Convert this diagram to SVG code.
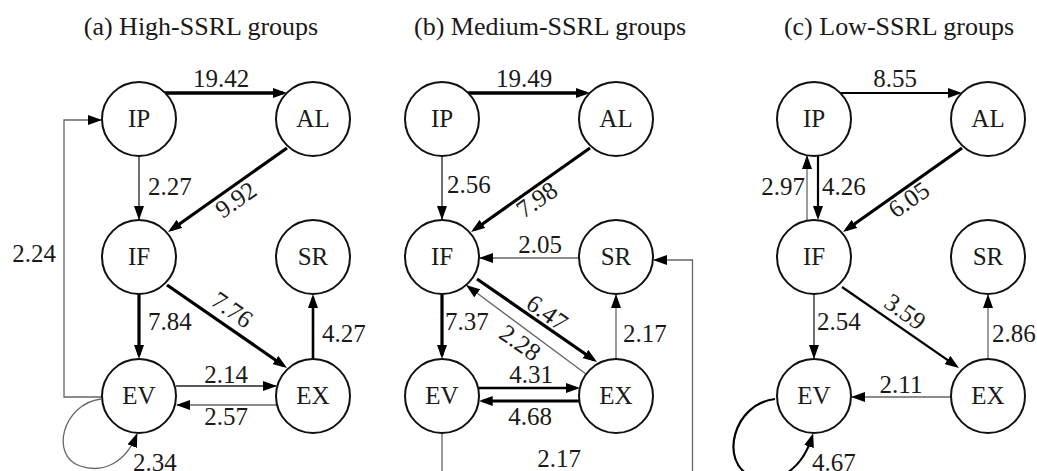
<svg xmlns="http://www.w3.org/2000/svg" width="1037" height="471" viewBox="0 0 1037 471" font-family="'Liberation Serif', 'DejaVu Serif', serif">
<defs>
<style>
text{font-family:'Liberation Serif','DejaVu Serif',serif;fill:#1a1a1a}
.title{font-size:26px;text-anchor:middle}
.nl{font-size:25px;text-anchor:middle}
.el{font-size:25px}
.m{text-anchor:middle}
.e{text-anchor:end}
circle{fill:#fff;stroke:#111;stroke-width:2}
.tk{stroke:#000;stroke-width:3.2;fill:none;marker-end:url(#ah)}
.md{stroke:#000;stroke-width:2.2;fill:none;marker-end:url(#ah)}
.tn{stroke:#222;stroke-width:1.3;fill:none;marker-end:url(#at)}
.gr{stroke:#666;stroke-width:1.3;fill:none;marker-end:url(#at)}
</style>
<marker id="ah" markerUnits="userSpaceOnUse" markerWidth="14" markerHeight="10" refX="10" refY="5" orient="auto"><path d="M0,0 L14,5 L0,10 z" fill="#000"/></marker>
<marker id="at" markerUnits="userSpaceOnUse" markerWidth="14" markerHeight="10" refX="13" refY="5" orient="auto"><path d="M0,0 L14,5 L0,10 z" fill="#000"/></marker>
</defs>
<rect width="1037" height="471" fill="#fff"/>

<text class="title" x="201" y="35">(a) High-SSRL groups</text>
<text class="title" x="550" y="35">(b) Medium-SSRL groups</text>
<text class="title" x="899" y="35">(c) Low-SSRL groups</text>

<!-- Panel A -->
<g id="panel-a">
<g id="a-connectors">
<path class="tk" d="M165,93 H283" style="stroke-width:3.6"/>
<path class="tn" d="M139,156 V219"/>
<path class="tk" d="M287,148 L171.3,229.7"/>
<path class="tk" d="M139,294 V355"/>
<path class="tk" d="M167,285 L283.7,365.7"/>
<path class="tk" d="M313,359 V298" style="stroke-width:2.6"/>
<path class="tn" d="M176,386 H276"/>
<path class="gr" d="M277,405 H177"/>
<path class="gr" d="M102,397 H64 V120 H101"/>
<path class="gr" d="M101,399 C62,404 50,456 80,466 C104,474 126,462 137,434"/>
<text class="el m" x="221" y="87">19.42</text>
<text class="el" x="148" y="195">2.27</text>
<text class="el m" transform="translate(236,200) rotate(-35)" y="8">9.92</text>
<text class="el" x="148" y="330">7.84</text>
<text class="el m" transform="translate(232,310) rotate(35)" y="8">7.76</text>
<text class="el" x="322" y="342">4.27</text>
<text class="el m" x="226" y="383">2.14</text>
<text class="el m" x="226" y="425">2.57</text>
<text class="el m" x="34" y="262">2.24</text>
<text class="el" x="133" y="471">2.34</text>
</g>
<g id="a-IP"><circle cx="139" cy="119" r="37"/><text class="nl" x="139" y="127">IP</text></g>
<g id="a-AL"><circle cx="313" cy="119" r="37"/><text class="nl" x="313" y="127">AL</text></g>
<g id="a-IF"><circle cx="139" cy="257" r="37"/><text class="nl" x="139" y="265">IF</text></g>
<g id="a-SR"><circle cx="313" cy="257" r="37"/><text class="nl" x="313" y="265">SR</text></g>
<g id="a-EV"><circle cx="139" cy="396" r="37"/><text class="nl" x="139" y="404">EV</text></g>
<g id="a-EX"><circle cx="313" cy="396" r="37"/><text class="nl" x="313" y="404">EX</text></g>
</g>

<!-- Panel B -->
<g id="panel-b" transform="translate(303,0)">
<g id="b-connectors">
<path class="tk" d="M165,93 H283" style="stroke-width:3.6"/>
<path class="tn" d="M139,156 V219"/>
<path class="tk" d="M287,148 L171.3,229.7"/>
<path class="gr" d="M276,258 H177"/>
<path class="tk" d="M139,294 V355"/>
<path class="tk" d="M174,279 L290.7,359.7"/>
<path class="gr" d="M283,374 L163.8,285.6"/>
<path class="gr" d="M313,359 V295"/>
<path class="tk" d="M176,388 H273" style="stroke-width:2.6"/>
<path class="tk" d="M277,401 H179.7"/>
<path class="gr" d="M139,433 V478 H389.5 V260 H351"/>
<text class="el m" x="221" y="87">19.49</text>
<text class="el" x="144" y="193">2.56</text>
<text class="el m" transform="translate(234,200) rotate(-35)" y="8">7.98</text>
<text class="el m" x="237" y="253">2.05</text>
<text class="el" x="142" y="330">7.37</text>
<text class="el m" transform="translate(244,313) rotate(35)" y="8">6.47</text>
<text class="el m" transform="translate(217,343) rotate(35)" y="8">2.28</text>
<text class="el" x="320" y="342">2.17</text>
<text class="el m" x="228" y="383">4.31</text>
<text class="el m" x="227" y="425">4.68</text>
<text class="el m" x="256" y="467">2.17</text>
</g>
<g id="b-IP"><circle cx="139" cy="119" r="37"/><text class="nl" x="139" y="127">IP</text></g>
<g id="b-AL"><circle cx="313" cy="119" r="37"/><text class="nl" x="313" y="127">AL</text></g>
<g id="b-IF"><circle cx="139" cy="257" r="37"/><text class="nl" x="139" y="265">IF</text></g>
<g id="b-SR"><circle cx="313" cy="257" r="37"/><text class="nl" x="313" y="265">SR</text></g>
<g id="b-EV"><circle cx="139" cy="396" r="37"/><text class="nl" x="139" y="404">EV</text></g>
<g id="b-EX"><circle cx="313" cy="396" r="37"/><text class="nl" x="313" y="404">EX</text></g>
</g>

<!-- Panel C -->
<g id="panel-c" transform="translate(675,0)">
<g id="c-connectors">
<path class="md" d="M165,93 H283"/>
<path class="gr" d="M132,220 V156"/>
<path class="md" d="M143,156 V216"/>
<path class="tk" d="M287,148 L171.3,229.7"/>
<path class="tn" d="M139,294 V358"/>
<path class="md" d="M167,287 L280.7,365.7"/>
<path class="gr" d="M313,359 V295"/>
<path class="gr" d="M276,397 H177"/>
<path class="md" d="M100,399 C58,404 44,462 76,476 C104,488 128,466 137,437"/>
<text class="el m" x="220" y="87">8.55</text>
<text class="el e" x="130" y="195">2.97</text>
<text class="el" x="147" y="195">4.26</text>
<text class="el m" transform="translate(234,200) rotate(-35)" y="8">6.05</text>
<text class="el" x="142" y="330">2.54</text>
<text class="el m" transform="translate(230,312) rotate(35)" y="8">3.59</text>
<text class="el" x="317" y="342">2.86</text>
<text class="el m" x="226" y="393">2.11</text>
<text class="el" x="137" y="471">4.67</text>
</g>
<g id="c-IP"><circle cx="139" cy="119" r="37"/><text class="nl" x="139" y="127">IP</text></g>
<g id="c-AL"><circle cx="313" cy="119" r="37"/><text class="nl" x="313" y="127">AL</text></g>
<g id="c-IF"><circle cx="139" cy="257" r="37"/><text class="nl" x="139" y="265">IF</text></g>
<g id="c-SR"><circle cx="313" cy="257" r="37"/><text class="nl" x="313" y="265">SR</text></g>
<g id="c-EV"><circle cx="139" cy="396" r="37"/><text class="nl" x="139" y="404">EV</text></g>
<g id="c-EX"><circle cx="313" cy="396" r="37"/><text class="nl" x="313" y="404">EX</text></g>
</g>
</svg>
